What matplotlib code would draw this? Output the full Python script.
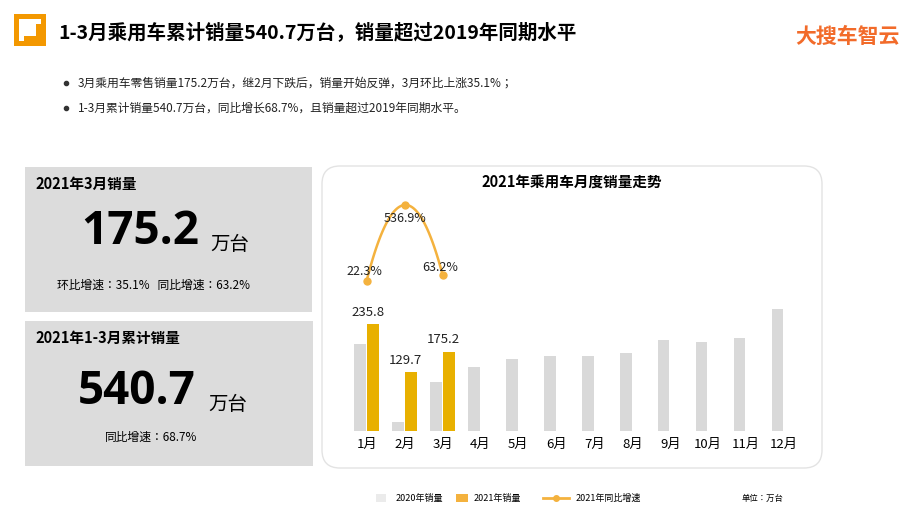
import matplotlib
matplotlib.use("Agg")
import matplotlib.pyplot as plt
import numpy as np
from matplotlib.patches import FancyBboxPatch, Rectangle
from matplotlib.lines import Line2D

plt.rcParams['font.family'] = ['Noto Sans CJK JP', 'Noto Sans CJK SC', 'DejaVu Sans']

months = ["1月","2月","3月","4月","5月","6月","7月","8月","9月","10月","11月","12月"]
sales_2020 = [193, 20, 108, 142, 159, 165, 165, 173, 202, 197, 205, 270]
sales_2021 = [235.8, 129.7, 175.2]
growth_2021 = [22.3, 536.9, 63.2]

W, H = 920, 518
fig = plt.figure(figsize=(9.2, 5.18), dpi=100)

def fx(x): return x / W
def fy(y): return 1 - y / H

bg = fig.add_axes([0, 0, 1, 1]); bg.set_xlim(0, W); bg.set_ylim(H, 0); bg.axis('off')

# header
bg.add_patch(Rectangle((14, 14), 32, 32, facecolor='#F39800', edgecolor='none'))
bg.add_patch(Rectangle((19, 19), 22, 22, facecolor='white', edgecolor='none'))
bg.add_patch(Rectangle((24, 24), 17, 17, facecolor='#F39800', edgecolor='none'))
bg.add_patch(Rectangle((24, 24), 12, 12, facecolor='white', edgecolor='none'))
bg.text(58, 38, "1-3月乘用车累计销量540.7万台，销量超过2019年同期水平", fontsize=14, fontweight='bold', va='baseline')
bg.text(900, 36, "大搜车智云", fontsize=15, fontweight='bold', color='#F26B2A', ha='right', va='center', style='italic')
bg.plot([66], [83], 'o', color='#333333', ms=3)
bg.plot([66], [108], 'o', color='#333333', ms=3)
bg.text(78, 83, "3月乘用车零售销量175.2万台，继2月下跌后，销量开始反弹，3月环比上涨35.1%；", fontsize=8.5, va='center', color='#222222')
bg.text(78, 108, "1-3月累计销量540.7万台，同比增长68.7%，且销量超过2019年同期水平。", fontsize=8.5, va='center', color='#222222')

# left boxes
bg.add_patch(Rectangle((25, 167), 287, 145, facecolor='#DCDCDC', edgecolor='none'))
bg.add_patch(Rectangle((25, 321), 288, 145, facecolor='#DCDCDC', edgecolor='none'))
bg.text(35, 184, "2021年3月销量", fontsize=10.5, fontweight='bold', va='center')
bg.text(140, 231, "175.2", fontsize=33, fontweight='bold', ha='center', va='center', family='Open Sans')
bg.text(210, 245, "万台", fontsize=14, va='center')
bg.text(57, 285, "环比增速：35.1%   同比增速：63.2%", fontsize=8.5, va='center')
bg.text(35, 338, "2021年1-3月累计销量", fontsize=10.5, fontweight='bold', va='center')
bg.text(137, 391, "540.7", fontsize=33, fontweight='bold', ha='center', va='center', family='Open Sans')
bg.text(208, 405, "万台", fontsize=14, va='center')
bg.text(105, 437, "同比增速：68.7%", fontsize=8.5, va='center')

# chart panel
bg.add_patch(FancyBboxPatch((322, 166), 500, 302, boxstyle="round,pad=0,rounding_size=18",
                            facecolor='white', edgecolor='#E3E3E3', lw=1))
bg.text(572, 183, "2021年乘用车月度销量走势", fontsize=10.5, fontweight='bold', ha='center', va='center')

gray = '#D9D9D9'; gold = '#E8B000'; lc = '#F4B23E'
x0, x1 = 347.7, 803.0
ytop, ybase = 195.0, 430.7
ax = fig.add_axes([fx(x0), fy(ybase), (x1 - x0) / W, (ybase - ytop) / H])
ax.patch.set_alpha(0)
n = len(months)
xs = np.arange(n)
ax.set_xlim(-0.5, n - 0.5)
ax.set_ylim(0, (ybase - ytop) / 0.451)
bw = 0.31; off = 0.175
ax.bar(xs - off, sales_2020, width=bw, color=gray)
x21 = xs[:len(sales_2021)] + off
ax.bar(x21, sales_2021, width=bw, color=gold)
for x, v in zip(x21, sales_2021):
    ax.text(x - 0.15, v + 12, f"{v}", ha='center', va='bottom', fontsize=9.5, color='#222222')
ax.set_xticks(xs)
ax.set_xticklabels(months, fontsize=9.5)
ax.tick_params(length=0, pad=5)
for s in ax.spines.values(): s.set_visible(False)
ax.set_yticks([])

ax2 = ax.twinx()
ax2.set_ylim(22.3 - (ybase - 280.7) / 0.147, 536.9 + (205 - ytop) / 0.147)
ax2.axis('off')
gx = np.arange(len(growth_2021))
coef = np.polyfit(gx, growth_2021, 2)
xx = np.linspace(0, len(growth_2021) - 1, 100)
ax2.plot(xx, np.polyval(coef, xx), color=lc, lw=1.8)
ax2.plot(gx, growth_2021, 'o', color=lc, ms=5)
lab_off = [(-0.05, 60), (0.0, -95), (-0.05, 50)]
for x, v, (dx, dy) in zip(gx, growth_2021, lab_off):
    ax2.text(x + dx, v + dy, f"{v}%", ha='center', va='center', fontsize=9, color='#222222')

# legend
bg.add_patch(Rectangle((376, 494), 10, 8, facecolor='#EBEBEB', edgecolor='none'))
bg.text(396, 498, "2020年销量", fontsize=6.5, va='center')
bg.add_patch(Rectangle((456, 494), 12, 8, facecolor='#F4B23E', edgecolor='none'))
bg.text(474, 498, "2021年销量", fontsize=6.5, va='center')
bg.add_line(Line2D([543, 569], [498, 498], color=lc, lw=2))
bg.plot([556], [498], 'o', color=lc, ms=4)
bg.text(576, 498, "2021年同比增速", fontsize=6.5, va='center')
bg.text(742, 498, "单位：万台", fontsize=6, va='center')

fig.savefig("out.png", dpi=100)
